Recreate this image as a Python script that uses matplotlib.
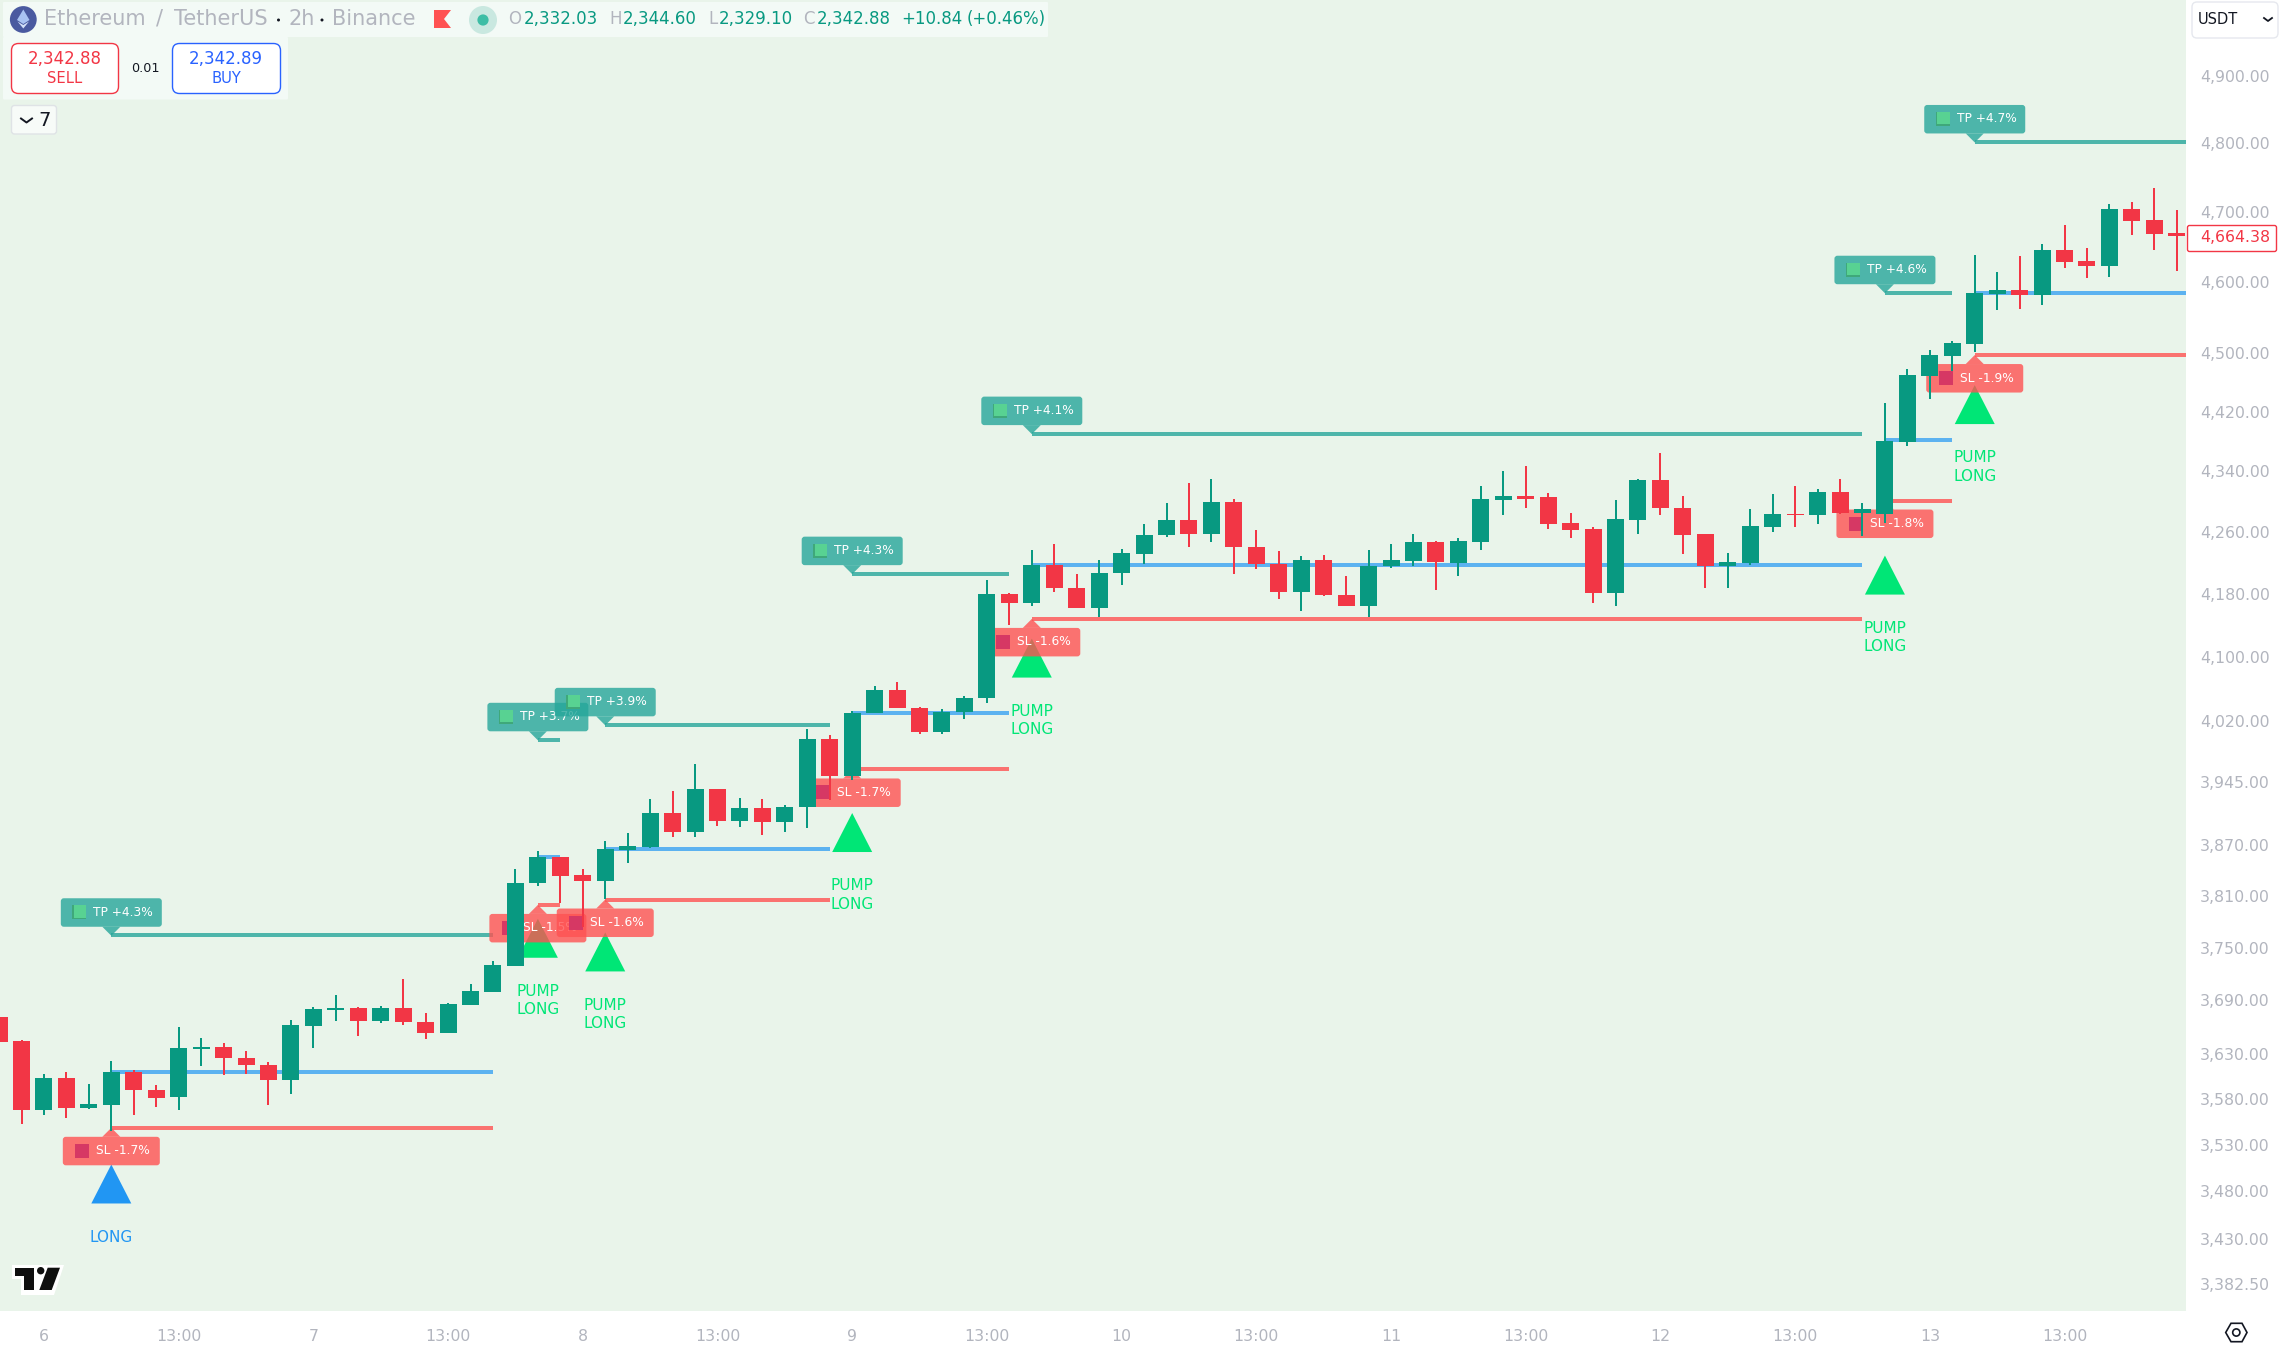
# ETH/USDT 2h candles with long signals, TP and SL levels, drawn like a TradingView screenshot

import matplotlib.pyplot as plt
from matplotlib.patches import Circle, FancyBboxPatch, Polygon, Rectangle
from matplotlib.transforms import Affine2D
import numpy as np

# Bars, first one is cut off by the left edge
bar_index = np.arange(-1, 97)
opens = [3671, 3644, 3567.5, 3603.5, 3570, 3573, 3610, 3590, 3582, 3635.5, 3637.5, 3625.5, 3618, 3600.5,
         3661.5, 3679, 3681.5, 3667, 3681.5, 3665.7, 3653.5, 3685, 3700, 3729.4, 3824.7, 3856, 3835, 3827,
         3864, 3868, 3908.6, 3885, 3937.6, 3899, 3914.7, 3897, 3915, 3998, 3952.4, 4029.5, 4059, 4036.6,
         4007, 4030.7, 4048, 4180, 4167.7, 4217.6, 4188, 4162.5, 4206.4, 4232, 4255.6, 4276, 4258, 4299,
         4240.8, 4219, 4182, 4224, 4179, 4165, 4215.5, 4222, 4247.3, 4220, 4247.3, 4301.5, 4308, 4305.4,
         4272.4, 4264.5, 4181.5, 4276, 4328, 4292, 4258, 4216, 4220, 4267, 4284, 4283, 4313.3, 4285.6,
         4284, 4379.4, 4469, 4496, 4512.6, 4583, 4588.7, 4581.7, 4645, 4629.6, 4622.5, 4704.3, 4688.4, 4669.5]
highs = [3671, 3645, 3608, 3610, 3596, 3622, 3612, 3595, 3660, 3647.6, 3642, 3633, 3621, 3667.5,
         3682.7, 3696, 3682.7, 3684, 3714, 3676, 3687, 3709, 3735, 3842, 3863, 3856, 3842, 3875,
         3884.5, 3925.5, 3935, 3967.7, 3937.6, 3926.7, 3925.5, 3918, 4010.4, 4003, 4033, 4064, 4069, 4038,
         4035, 4051.5, 4198, 4181.5, 4237, 4244.7, 4206, 4224, 4238, 4270, 4297.5, 4324, 4330.5, 4303,
         4263, 4235, 4229, 4230.5, 4203.4, 4236, 4244.7, 4258, 4248.6, 4252.6, 4320, 4341, 4347.6, 4310.7,
         4285.6, 4267, 4301.5, 4330.5, 4365, 4308, 4258, 4233, 4289.6, 4309.4, 4320, 4317, 4330.5, 4297.5,
         4432.4, 4478.6, 4504.5, 4516.8, 4638, 4614, 4636.7, 4653.6, 4681, 4648, 4711.6, 4714.5, 4734.7, 4703]
lows = [3643.5, 3553, 3562, 3559, 3569, 3544.5, 3563, 3571, 3567.5, 3616, 3606, 3608, 3573, 3586,
        3637, 3667, 3650, 3664.6, 3662, 3646, 3653.5, 3685, 3700, 3729.4, 3822, 3802, 3774, 3806,
        3849, 3866.6, 3879, 3879, 3893, 3891, 3882.5, 3885, 3890, 3923.5, 3948, 4029.5, 4035.7, 4004.6,
        4004.6, 4022, 4042.5, 4140.6, 4165, 4183, 4162.5, 4151, 4191, 4218, 4254, 4241, 4246.4, 4205,
        4211.5, 4174, 4158.5, 4177, 4164, 4151, 4213, 4215.5, 4184.5, 4203.4, 4237, 4283, 4291, 4264.5,
        4252.6, 4168.6, 4164.7, 4258, 4282, 4232, 4188, 4188, 4217.6, 4260.5, 4266, 4271, 4284, 4255,
        4272.4, 4374, 4438, 4476, 4501.8, 4560.5, 4562, 4567.6, 4620, 4605.6, 4607, 4666.6, 4644.3, 4615]
closes = [3643.5, 3567.5, 3603.5, 3570, 3574, 3610, 3589.5, 3581, 3636.5, 3637.5, 3625, 3617, 3600.5, 3662,
          3680.4, 3681.5, 3667, 3681.5, 3665, 3653.5, 3686, 3701, 3730, 3825.5, 3856, 3834, 3827, 3865.5,
          3869, 3908.6, 3885, 3937.6, 3899, 3914.7, 3897, 3916, 3998, 3952.4, 4030.4, 4059, 4035.7, 4007,
          4031.6, 4049, 4180, 4167.7, 4217.6, 4187, 4162.5, 4207, 4233, 4256.6, 4276, 4258, 4299, 4240,
          4218, 4182, 4224, 4178, 4165, 4216, 4223, 4247.3, 4220.6, 4248.6, 4303, 4308, 4304, 4271,
          4263, 4181.5, 4277.7, 4328, 4291, 4256.6, 4216, 4221.5, 4268, 4284, 4283, 4313.3, 4285.6, 4289.6,
          4380.7, 4470.5, 4497.7, 4514, 4584.5, 4588.7, 4581.7, 4645, 4628, 4622.5, 4704.3, 4687, 4668, 4664.38]

# Signals: bar of the signal, last bar of its levels, and the levels themselves
signal_bars = [4, 23, 26, 37, 45, 83, 87]
end_bars = [21, 24, 36, 44, 82, 86, 96.41]
entries = [3610, 3856, 3865, 4030, 4217.2, 4382.5, 4584]
stops = [3548.5, 3799.6, 3805.9, 3960.8, 4148, 4301.4, 4497.7]
targets = [3764.4, 3997, 4015.4, 4206, 4390.6, 4584.5, 4801.5]
tp_labels = ["TP +4.3%", "TP +3.7%", "TP +3.9%", "TP +4.3%", "TP +4.1%", "TP +4.6%", "TP +4.7%"]
sl_labels = ["SL -1.7%", "SL -1.5%", "SL -1.6%", "SL -1.7%", "SL -1.6%", "SL -1.8%", "SL -1.9%"]
signal_names = ["LONG", "PUMP\nLONG", "PUMP\nLONG", "PUMP\nLONG", "PUMP\nLONG", "PUMP\nLONG", "PUMP\nLONG"]

# Axis labels
price_ticks = [4900, 4800, 4700, 4600, 4500, 4420, 4340, 4260, 4180, 4100, 4020, 3945, 3870, 3810, 3750,
               3690, 3630, 3580, 3530, 3480, 3430, 3382.5]
time_ticks = [1, 7, 13, 19, 25, 31, 37, 43, 49, 55, 61, 67, 73, 79, 85, 91]
time_labels = ["6", "13:00", "7", "13:00", "8", "13:00", "9", "13:00", "10", "13:00", "11", "13:00", "12",
               "13:00", "13", "13:00"]

GREEN = "#089981"
RED = "#F23645"
GREY = "#B2B5BE"
BG = "#E9F4EA"
W, H = 2280, 1347

plt.rcParams["font.family"] = "DejaVu Sans"

fig = plt.figure(figsize=(W / 100, H / 100), dpi=100, facecolor="white")
ax = fig.add_axes([0, (H - 1311) / H, 2186 / W, 1311 / H], facecolor=BG)
ax.set_yscale("log")
ax.set_ylim(3354.6, 5015.2)
ax.set_xlim(-0.958, 96.41)
ax.minorticks_off()
for s in ax.spines.values():
    s.set_visible(False)

ax.set_yticks(price_ticks)
ax.set_yticklabels([f"{p:,.2f}" for p in price_ticks])
ax.yaxis.tick_right()
ax.set_xticks(time_ticks)
ax.set_xticklabels(time_labels)
ax.tick_params(axis="y", length=0, pad=10, labelsize=11.3, labelcolor=GREY)
ax.tick_params(axis="x", length=0, pad=13, labelsize=11.3, labelcolor=GREY)

# screen coordinates, y going down, for everything that is not tied to the price scale
pix = Affine2D().scale(1, -1).translate(0, H)


def to_px(i, price):
    x, y = ax.transData.transform((i, price))
    return x, H - y


def box(x0, y0, x1, y1, fc, ec="none", r=3, lw=0, alpha=None, z=10):
    ax.add_patch(FancyBboxPatch((x0 + r, y0 + r), x1 - x0 - 2 * r, y1 - y0 - 2 * r,
                                boxstyle=f"round,pad={r},rounding_size={r}", fc=fc, ec=ec, lw=lw,
                                alpha=alpha, transform=pix, clip_on=False, zorder=z))


def poly(pts, fc, alpha=None, z=10, **kw):
    ax.add_patch(Polygon(pts, closed=True, fc=fc, ec=kw.pop("ec", "none"), alpha=alpha, transform=pix,
                         clip_on=False, zorder=z, **kw))


def label(x, y, s, color, size, ha="left", z=11, **kw):
    ax.text(x, y, s, color=color, fontsize=size, ha=ha, va="center", transform=pix, clip_on=False,
            zorder=z, **kw)


# Candles
colors = [GREEN if c >= o else RED for o, c in zip(opens, closes)]
ax.vlines(bar_index, lows, highs, colors=colors, lw=1.44, zorder=4)
ax.bar(bar_index, np.abs(np.array(closes) - np.array(opens)), width=0.757,
       bottom=np.minimum(opens, closes), color=colors, linewidth=0, zorder=4)

# Signals with their levels and labels
for n, bar in enumerate(signal_bars):
    z = 3 + n * 0.02
    ends = [bar, end_bars[n]]
    ax.plot(ends, [entries[n]] * 2, color="#2196F3", alpha=0.7, lw=2.88, solid_capstyle="butt", zorder=z)
    ax.plot(ends, [stops[n]] * 2, color="#FF5252", alpha=0.8, lw=2.88, solid_capstyle="butt", zorder=z)
    ax.plot(ends, [targets[n]] * 2, color="#26A69A", alpha=0.8, lw=2.88, solid_capstyle="butt", zorder=z)

    x, low_y = to_px(bar, lows[bar + 1])
    _, tp_y = to_px(bar, targets[n])
    _, sl_y = to_px(bar, stops[n])

    # triangle below the bar, text under it
    mark = "#2196F3" if signal_names[n] == "LONG" else "#00E676"
    top = low_y + 33
    poly([(x, top), (x - 20, top + 39), (x + 20, top + 39)], mark, z=2)
    for k, line in enumerate(signal_names[n].split("\n")):
        label(x, top + 39 + 33.6 + 18.4 * k, line, mark, 11, ha="center", z=2)

    # TP label
    box(x - 50.5, tp_y - 37, x + 50.5, tp_y - 8.5, "#26A69A", alpha=0.8, z=z)
    poly([(x - 9, tp_y - 8.5), (x + 9, tp_y - 8.5), (x, tp_y + 0.5)], "#26A69A", alpha=0.8, z=z)
    ax.add_patch(Rectangle((x - 39, tp_y - 30), 14, 14, fc="#3FA87A", transform=pix, zorder=z + 0.005))
    ax.add_patch(Rectangle((x - 37.5, tp_y - 30), 12.5, 12.5, fc="#58D292", transform=pix, zorder=z + 0.005))
    label(x - 18, tp_y - 23, tp_labels[n], "white", 8.8, z=z + 0.005)

    # SL label
    box(x - 48.5, sl_y + 9, x + 48.5, sl_y + 37.5, "#FF5252", alpha=0.8, z=z)
    poly([(x - 9, sl_y + 9), (x + 9, sl_y + 9), (x, sl_y)], "#FF5252", alpha=0.8, z=z)
    ax.add_patch(Rectangle((x - 36, sl_y + 16), 14, 14, fc="#D63864", transform=pix, zorder=z + 0.005))
    label(x - 15, sl_y + 23, sl_labels[n], "white", 8.8, z=z + 0.005)

# Header strip
box(3, 2, 1048, 37, "#F3FAF6", r=1)
box(3, 37, 288, 99.5, "#F3FAF6", r=1)
ax.add_patch(Circle((23.3, 19.5), 13.4, fc="#4A5AA0", transform=pix, zorder=11))
poly([(23.3, 9.5), (29.5, 20), (23.3, 24), (17, 20)], "#A9C3F2", z=12)
poly([(17.5, 21.5), (23.3, 25), (29, 21.5), (23.3, 28.5)], "#D3E0F8", z=12)
for x, s in [(44, "Ethereum"), (156, "/"), (174, "TetherUS"), (288, "2h"), (332.5, "Binance")]:
    label(x, 19, s, GREY, 15)
for x in [278.5, 322]:
    ax.add_patch(Circle((x, 20), 1.5, fc="#131722", transform=pix, zorder=11))
poly([(434, 10), (451, 10), (444, 19), (451, 28), (434, 28)], "#FF5252")
ax.add_patch(Circle((483, 20), 14, fc="#C9E8E0", transform=pix, zorder=11))
ax.add_patch(Circle((483, 20), 5.6, fc="#3DBDA5", transform=pix, zorder=12))
for x, s in [(508.6, "O"), (609, "H"), (708.5, "L"), (803, "C")]:
    label(x, 19.5, s, GREY, 12)
for x, s in [(524, "2,332.03"), (623, "2,344.60"), (719, "2,329.10"), (817, "2,342.88"), (901.4, "+10.84"),
             (967, "(+0.46%)")]:
    label(x, 19.5, s, GREEN, 12)

# Sell and buy buttons
box(11.5, 43.5, 118.5, 93.5, "white", ec=RED, r=7, lw=1)
label(65, 58.5, "2,342.88", RED, 12, ha="center")
label(65, 78.5, "SELL", RED, 10.6, ha="center")
label(145, 69, "0.01", "#131722", 9.2, ha="center")
box(172.5, 43.5, 280.5, 93.5, "white", ec="#2962FF", r=7, lw=1)
label(226, 58.5, "2,342.89", "#2962FF", 12, ha="center")
label(226, 78.5, "BUY", "#2962FF", 10.6, ha="center")

# Collapsed indicators button
box(11.5, 105.5, 56.5, 134, "#F7FBF8", ec="#DFE3E6", r=3, lw=1)
ax.plot([21, 26.5, 32], [118.5, 122.5, 118.5], color="#131722", lw=1.4, transform=pix, clip_on=False, zorder=11)
label(45, 120, "7", "#131722", 14, ha="center")

# TradingView logo
poly([(12, 1265), (64, 1265), (54, 1295), (21, 1295), (21, 1279), (12, 1279)], "white")
poly([(15, 1267.7), (34.3, 1267.7), (34.3, 1290), (24, 1290), (24, 1275.7), (15, 1275.7)], "#0F0F0F", z=11)
ax.add_patch(Circle((40.7, 1270.7), 3.7, fc="#0F0F0F", transform=pix, zorder=11))
poly([(47.7, 1267.7), (60, 1267.7), (51.7, 1290), (39.3, 1290)], "#0F0F0F", z=11)

# Price scale extras
box(2192, 2, 2278, 38, "white", ec="#E6E8EE", r=5, lw=1)
label(2198, 19, "USDT", "#131722", 10.5)
ax.plot([2264, 2268, 2272], [18, 21, 18], color="#131722", lw=1.3, transform=pix, clip_on=False, zorder=11)
box(2187.5, 225.5, 2276.5, 251.5, "white", ec=RED, r=2, lw=1)
label(2200, 238, "4,664.38", RED, 11.3)

# Settings icon in the corner
poly([(2225.7, 1332.5), (2231, 1323.3), (2242, 1323.3), (2247, 1332.5), (2242, 1341.7), (2231, 1341.7)],
     "none", ec="#131722", lw=1.2)
ax.add_patch(Circle((2236.3, 1332.5), 3.6, fc="none", ec="#131722", lw=1.2, transform=pix, clip_on=False,
                    zorder=11))

fig.savefig("out.png", dpi=100)
